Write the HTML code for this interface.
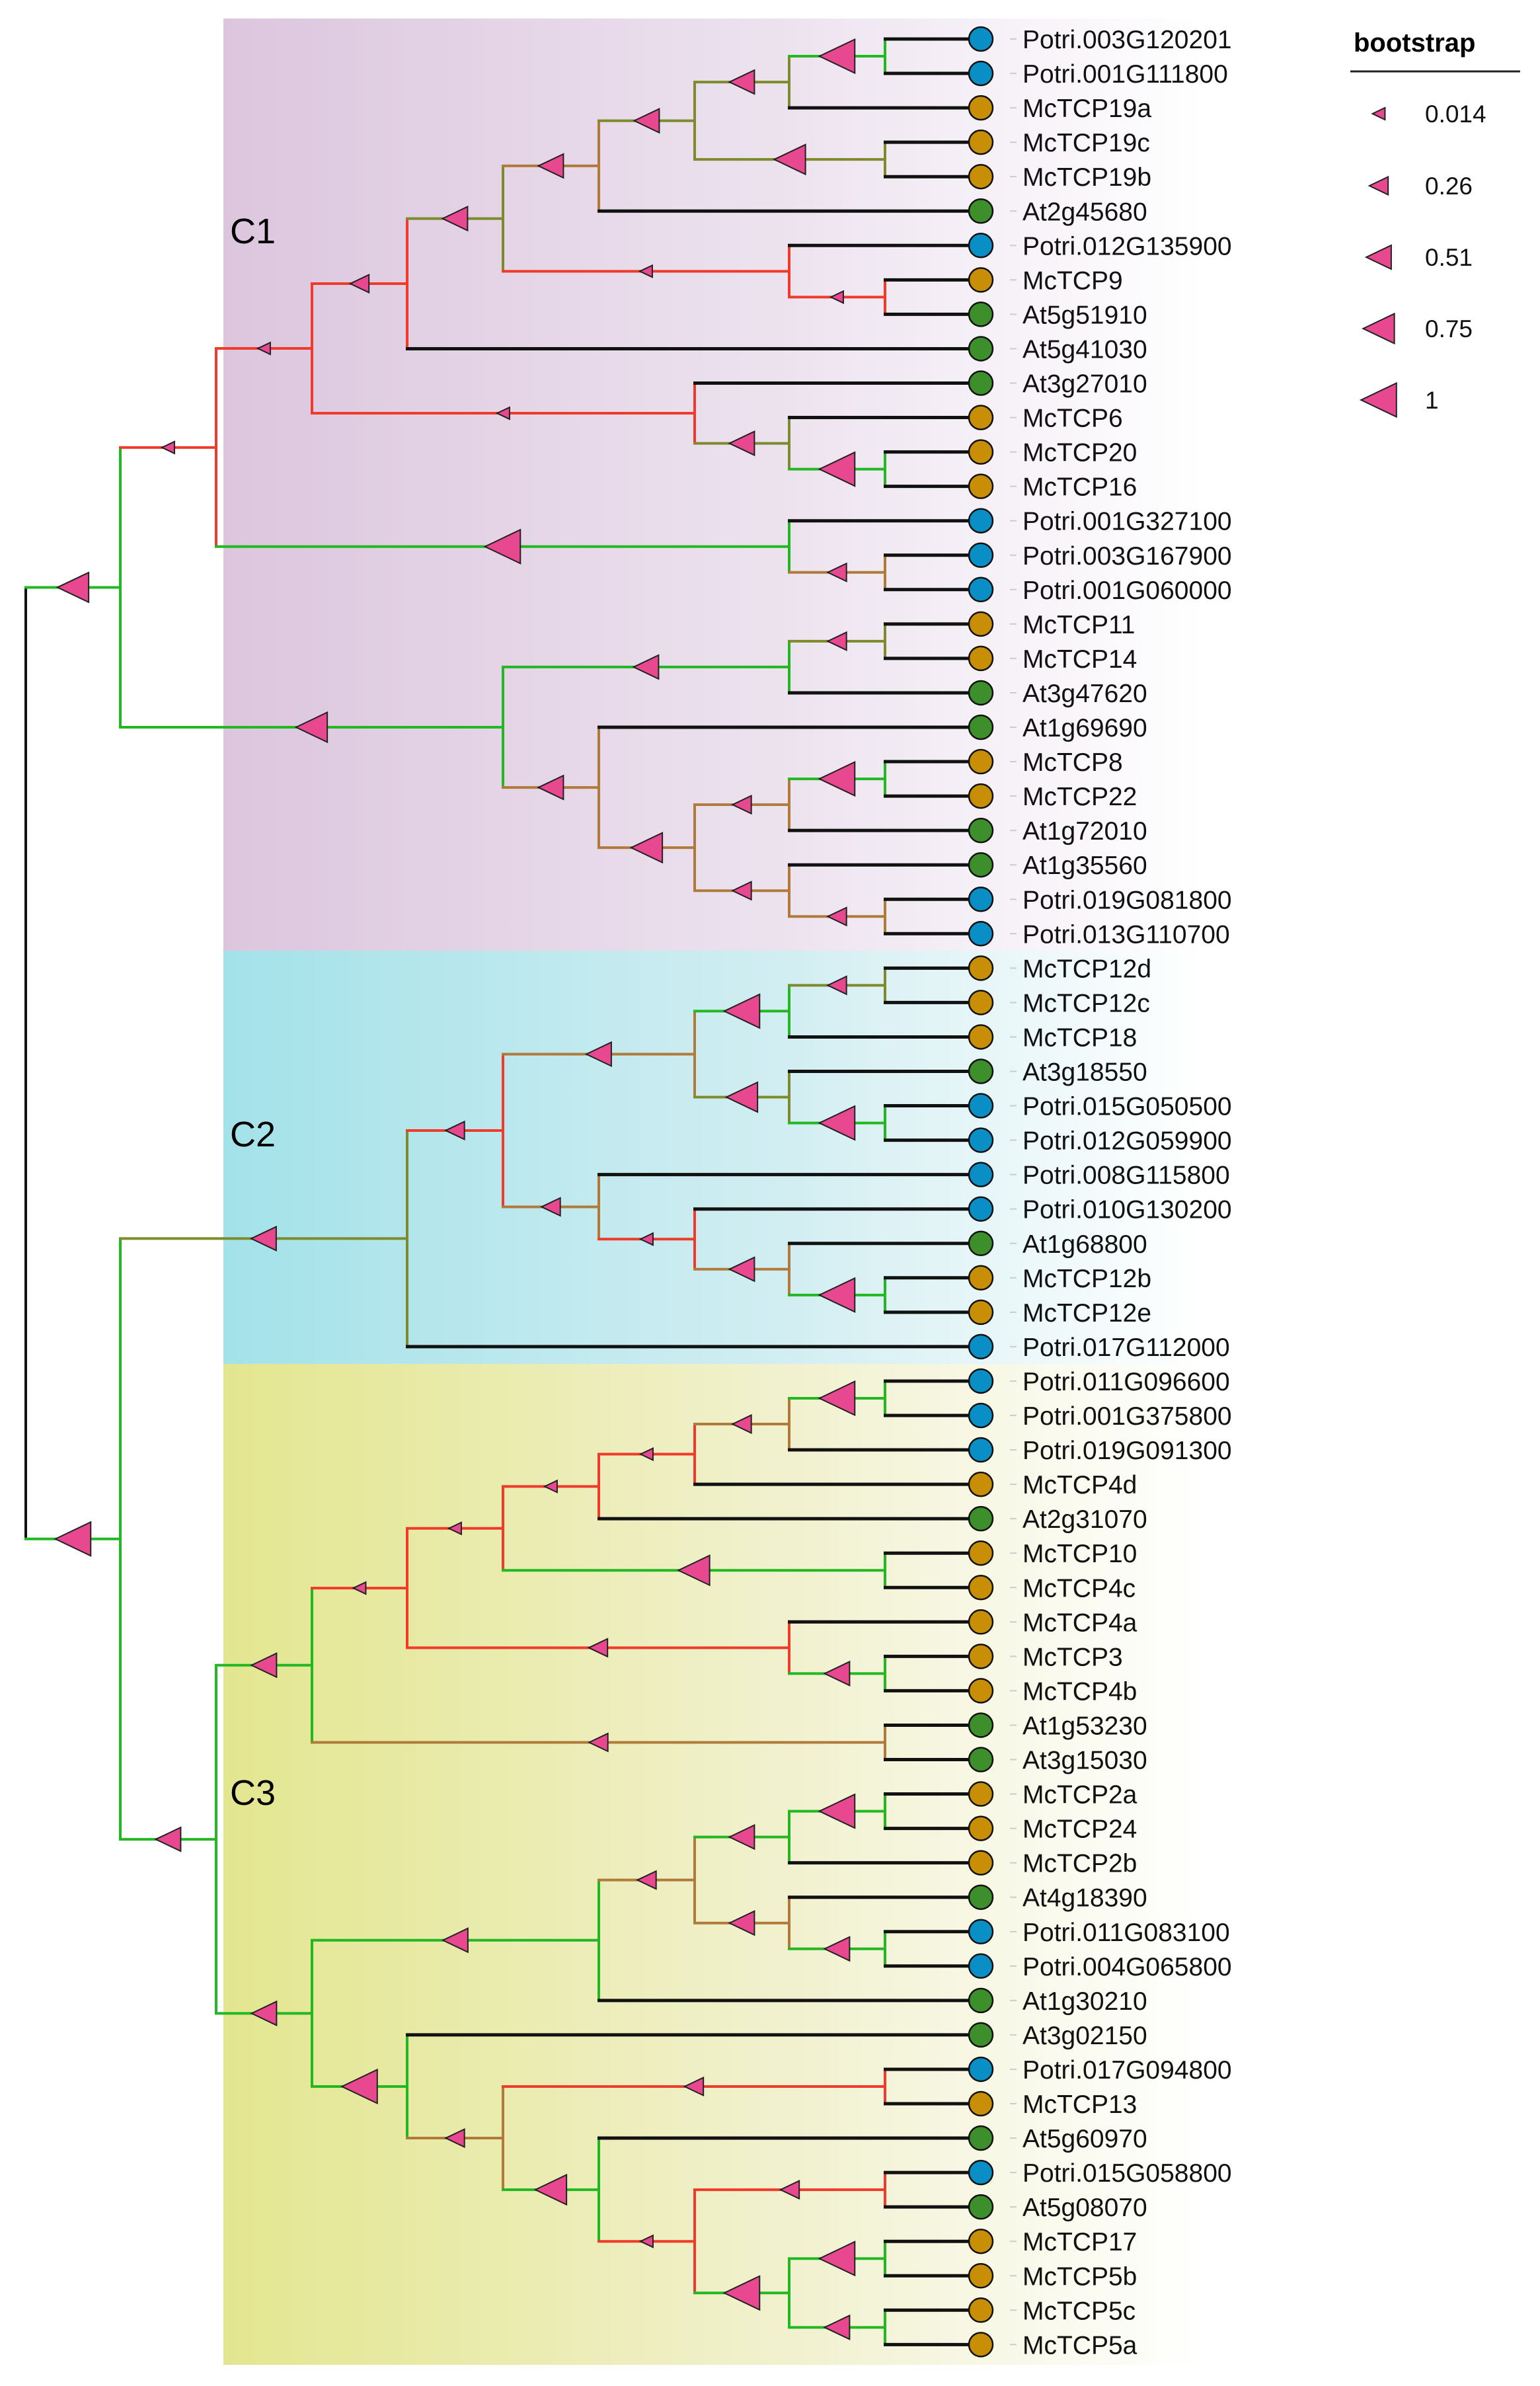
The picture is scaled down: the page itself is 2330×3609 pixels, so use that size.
<!DOCTYPE html>
<html><head><meta charset="utf-8"><style>
html,body{margin:0;padding:0;background:#fff;}
svg{display:block;}
text{font-family:"Liberation Sans",Arial,sans-serif;}
</style></head><body>
<svg id="s" width="2330" height="3609" xmlns="http://www.w3.org/2000/svg">
<defs>
<linearGradient id="g1" x1="0" x2="1" y1="0" y2="0"><stop offset="0" stop-color="#dcc6de"/><stop offset="0.55" stop-color="#ede3ef"/><stop offset="0.95" stop-color="#ffffff"/></linearGradient>
<linearGradient id="g2" x1="0" x2="1" y1="0" y2="0"><stop offset="0" stop-color="#a3e2e9"/><stop offset="0.55" stop-color="#d2eef2"/><stop offset="0.95" stop-color="#ffffff"/></linearGradient>
<linearGradient id="g3" x1="0" x2="1" y1="0" y2="0"><stop offset="0" stop-color="#e3e68f"/><stop offset="0.55" stop-color="#f1f1cf"/><stop offset="0.95" stop-color="#ffffff"/></linearGradient>
</defs>
<rect x="338" y="28" width="1560" height="1410" fill="url(#g1)"/>
<rect x="338" y="1438" width="1560" height="625" fill="url(#g2)"/>
<rect x="338" y="2063" width="1560" height="1514" fill="url(#g3)"/>
<text x="348" y="368" font-size="54">C1</text>
<text x="348" y="1734" font-size="54">C2</text>
<text x="348" y="2730" font-size="54">C3</text>
<g id="tree"></g>
<text x="2048" y="78" font-size="40" font-weight="bold">bootstrap</text>
<line x1="2043" y1="108" x2="2300" y2="108" stroke="#222" stroke-width="3"/>
<g id="leg"></g>
</svg>
<script>
var X=[39,182,327,472,616,761,906,1051,1194,1339],LX=1484;
var R='#f03a2a',G='#22b822',O='#7d8b2c',B='#b07a3a',K='#111';
var SZ={t:18,s:27,m:36,l:45,x:51};
function N(l,c,s){return {l:l,c:c,s:s,k:Array.prototype.slice.call(arguments,3)};}
var names=["Potri.003G120201","Potri.001G111800","McTCP19a","McTCP19c","McTCP19b","At2g45680","Potri.012G135900","McTCP9","At5g51910","At5g41030","At3g27010","McTCP6","McTCP20","McTCP16","Potri.001G327100","Potri.003G167900","Potri.001G060000","McTCP11","McTCP14","At3g47620","At1g69690","McTCP8","McTCP22","At1g72010","At1g35560","Potri.019G081800","Potri.013G110700","McTCP12d","McTCP12c","McTCP18","At3g18550","Potri.015G050500","Potri.012G059900","Potri.008G115800","Potri.010G130200","At1g68800","McTCP12b","McTCP12e","Potri.017G112000","Potri.011G096600","Potri.001G375800","Potri.019G091300","McTCP4d","At2g31070","McTCP10","McTCP4c","McTCP4a","McTCP3","McTCP4b","At1g53230","At3g15030","McTCP2a","McTCP24","McTCP2b","At4g18390","Potri.011G083100","Potri.004G065800","At1g30210","At3g02150","Potri.017G094800","McTCP13","At5g60970","Potri.015G058800","At5g08070","McTCP17","McTCP5b","McTCP5c","McTCP5a"];
function rowY(i){return 59+i*52.05;}
var n582a=N(9,G,'x',0,1),n519a=N(8,O,'m',n582a,2),n582b=N(9,O,'l',3,4),n457a=N(7,O,'m',n519a,n582b),n394a=N(6,B,'m',n457a,5),
n582c=N(9,R,'t',7,8),n519b=N(8,R,'t',6,n582c),n331a=N(5,O,'m',n394a,n519b),n268a=N(4,R,'s',n331a,9),
n582d=N(9,G,'x',12,13),n519c=N(8,O,'m',11,n582d),n457b=N(7,R,'t',10,n519c),A1a=N(3,R,'t',n268a,n457b),
n582e=N(9,B,'s',15,16),A1b=N(8,G,'x',14,n582e),A1=N(2,R,'t',A1a,A1b),
n582f=N(9,O,'s',17,18),n519d=N(8,G,'m',n582f,19),n582g=N(9,G,'x',21,22),n519e=N(8,B,'s',n582g,23),
n582h=N(9,B,'s',25,26),n519f=N(8,B,'s',24,n582h),n457c=N(7,B,'l',n519e,n519f),n394b=N(6,B,'m',20,n457c),
A2=N(5,G,'l',n519d,n394b),A=N(1,G,'l',A1,A2);
var n582i=N(9,O,'s',27,28),n519g=N(8,G,'x',n582i,29),n582j=N(9,G,'x',31,32),n519h=N(8,O,'l',30,n582j),n457d=N(7,B,'m',n519g,n519h),
n582k=N(9,G,'x',36,37),n519i=N(8,B,'m',35,n582k),n457e=N(7,R,'t',34,n519i),n394c=N(6,B,'s',33,n457e),n331b=N(5,R,'s',n457d,n394c),C2=N(4,O,'m',n331b,38);
var n582l=N(9,G,'x',39,40),n519j=N(8,B,'s',n582l,41),n457f=N(7,R,'t',n519j,42),n394d=N(6,R,'t',n457f,43),n582m=N(9,G,'l',44,45),
n331c=N(5,R,'t',n394d,n582m),n582n=N(9,G,'m',47,48),n519k=N(8,R,'s',46,n582n),n268b=N(4,R,'t',n331c,n519k),n582o=N(9,B,'s',49,50),
n205a=N(3,G,'m',n268b,n582o),n582p=N(9,G,'x',51,52),n519l=N(8,G,'m',n582p,53),n582q=N(9,G,'m',55,56),n519m=N(8,B,'m',54,n582q),
n457g=N(7,B,'s',n519l,n519m),n394e=N(6,G,'m',n457g,57),n582r=N(9,R,'s',59,60),n582s=N(9,R,'s',62,63),n582t=N(9,G,'x',64,65),
n582u=N(9,G,'m',66,67),n519n=N(8,G,'x',n582t,n582u),n457h=N(7,R,'t',n582s,n519n),n394f=N(6,G,'l',61,n457h),n331d=N(5,B,'s',n582r,n394f),
n268c=N(4,G,'x',58,n331d),n205b=N(3,G,'m',n394e,n268c),n142=N(2,G,'m',n205a,n205b),Bn=N(1,G,'x',C2,n142),root=N(0,K,null,A,Bn);
function cy(n){if(typeof n==='number')return rowY(n);var a=cy(n.k[0]),b=cy(n.k[n.k.length-1]);n.y=(a+b)/2;n.ya=a;n.yb=b;return n.y;}
cy(root);
var lines=[],tris=[];
function draw(n){
  var x=X[n.l];
  lines.push('<line x1="'+x+'" y1="'+n.ya+'" x2="'+x+'" y2="'+n.yb+'" stroke="'+n.c+'" stroke-width="4"/>');
  n.k.forEach(function(c){
    if(typeof c==='number'){var y=rowY(c);lines.push('<line x1="'+(x-2)+'" y1="'+y+'" x2="'+LX+'" y2="'+y+'" stroke="'+K+'" stroke-width="5"/>');}
    else{var cx=X[c.l];lines.push('<line x1="'+(x-2)+'" y1="'+c.y+'" x2="'+(cx+2)+'" y2="'+c.y+'" stroke="'+c.c+'" stroke-width="4"/>');
      var h=SZ[c.s],w=h*1.05,m=(x+cx)/2;
      tris.push('<polygon points="'+(m-w/2)+','+c.y+' '+(m+w/2)+','+(c.y-h/2)+' '+(m+w/2)+','+(c.y+h/2)+'" fill="#e8488f" stroke="#222" stroke-width="2"/>');
      draw(c);}
  });
}
draw(root);
var out=lines.join('')+tris.join('');
for(var i=0;i<names.length;i++){var y=rowY(i),nm=names[i];
  var col=nm.indexOf('Potri')==0?'#0a8ec6':(nm.indexOf('Mc')==0?'#c88f06':'#3d8f2b');
  out+='<line x1="1528" y1="'+y+'" x2="1538" y2="'+y+'" stroke="#ccc" stroke-width="2"/>';
  out+='<circle cx="'+LX+'" cy="'+y+'" r="18" fill="'+col+'" stroke="#111" stroke-width="2.5"/>';
  out+='<text x="1547" y="'+(y+14)+'" font-size="39" fill="#111">'+nm+'</text>';}
document.getElementById('tree').innerHTML=out;
var lg='',labs=['0.014','0.26','0.51','0.75','1'],ks=['t','s','m','l','x'],ly=[172,281,389,497,605];
for(var j=0;j<5;j++){var hh=SZ[ks[j]],ww=hh*1.05,m=2086,y=ly[j];
  lg+='<polygon points="'+(m-ww/2)+','+y+' '+(m+ww/2)+','+(y-hh/2)+' '+(m+ww/2)+','+(y+hh/2)+'" fill="#e8488f" stroke="#222" stroke-width="2"/>';
  lg+='<text x="2156" y="'+(y+13)+'" font-size="37" fill="#111">'+labs[j]+'</text>';}
document.getElementById('leg').innerHTML=lg;
</script>
</body></html>
